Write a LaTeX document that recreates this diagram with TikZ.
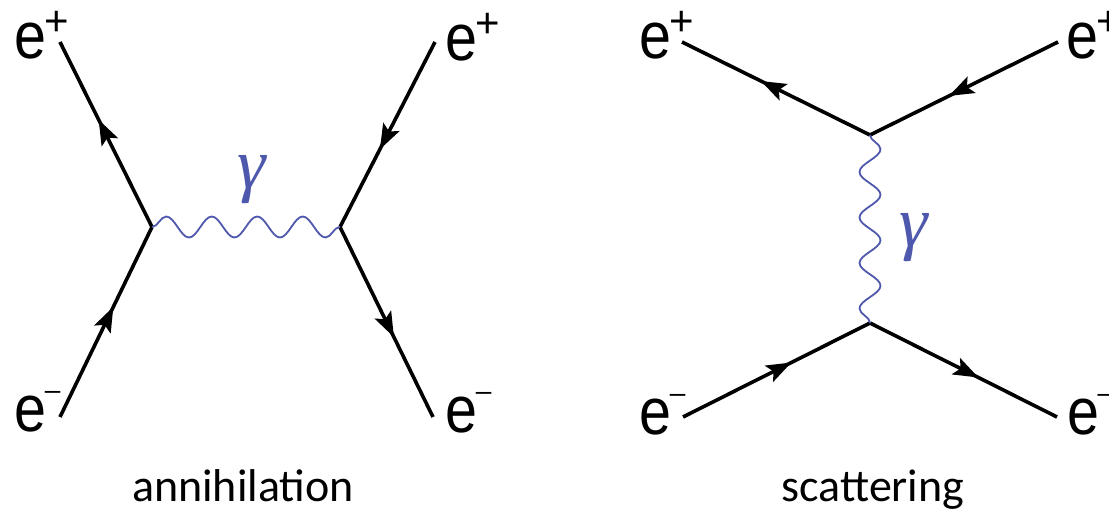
\documentclass[tikz,border=0pt]{standalone}
\usepackage{fontspec}
\setmainfont{Liberation Sans}
\newfontfamily\capfont{Carlito}
\newfontfamily\gfont{Liberation Serif}
\usetikzlibrary{decorations.pathmorphing,decorations.markings,arrows.meta,calc}
\definecolor{photoncol}{RGB}{78,88,172}
\newcommand{\epos}{\scalebox{0.87}[1]{e}\kern-2pt\raisebox{23pt}{\fontsize{42}{42}\selectfont +}}
\newcommand{\eneg}{\scalebox{0.87}[1]{e}\kern-2pt\raisebox{32pt}{\fontsize{28}{28}\selectfont –}}
\newcommand{\gam}{{\gfont\itshape γ}}
\begin{document}
\begin{tikzpicture}[x=1pt,y=-1pt,
  elabel/.style={inner sep=0pt, anchor=base west, font=\fontsize{66}{66}\selectfont},
  fermion/.style={line width=3.6pt, postaction={decorate},
    decoration={markings, mark=at position 0.58 with {\arrow{Stealth[length=25pt,width=18pt,inset=5pt]}}}},
  photon/.style={draw=photoncol, line width=1.8pt, decorate,
    decoration={snake, segment length=45.5pt, amplitude=10.5pt}},
  gamlabel/.style={inner sep=0pt, text=photoncol, font=\fontsize{72}{72}\selectfont},
  caption/.style={inner sep=0pt, anchor=base, font=\capfont\fontsize{46}{46}\selectfont}]
\useasboundingbox (0,0) rectangle (1109,511);
% annihilation
\coordinate (av1) at (152,227);
\coordinate (av2) at (340,227);
\coordinate (atl) at (60,42);
\coordinate (atr) at (435,42);
\coordinate (abl) at (60,417);
\coordinate (abr) at (433,417);
\node[elabel] (latl) at (14.7,59) {\epos};
\node[elabel] (latr) at (445.7,61) {\epos};
\node[elabel] (labl) at (14.7,431) {\eneg};
\node[elabel] (labr) at (445.7,432) {\eneg};
\draw[fermion] (av1) -- (atl);
\draw[fermion] (abl) -- (av1);
\draw[fermion] (atr) -- (av2);
\draw[fermion] (av2) -- (abr);
\draw[photon] (av1) -- (av2);
\node[gamlabel] (g1) at (252,180) {\gam};
\node[caption] (c1) at (243,501) {annihilation};
% scattering
\coordinate (sv1) at (870,135);
\coordinate (sv2) at (870,323);
\coordinate (stl) at (682,42);
\coordinate (str) at (1058,42);
\coordinate (sbl) at (683,417);
\coordinate (sbr) at (1057,417);
\node[elabel] (lstl) at (639.7,59) {\epos};
\node[elabel] (lstr) at (1066,59) {\epos};
\node[elabel] (lsbl) at (639.7,434) {\eneg};
\node[elabel] (lsbr) at (1067.5,434) {\eneg};
\draw[fermion] (sv1) -- (stl);
\draw[fermion] (str) -- (sv1);
\draw[fermion] (sbl) -- (sv2);
\draw[fermion] (sv2) -- (sbr);
\draw[photon] (sv1) -- (sv2);
\node[gamlabel] (g2) at (914,238) {\gam};
\node[caption] (c2) at (873,501) {scattering};
\end{tikzpicture}
\end{document}
